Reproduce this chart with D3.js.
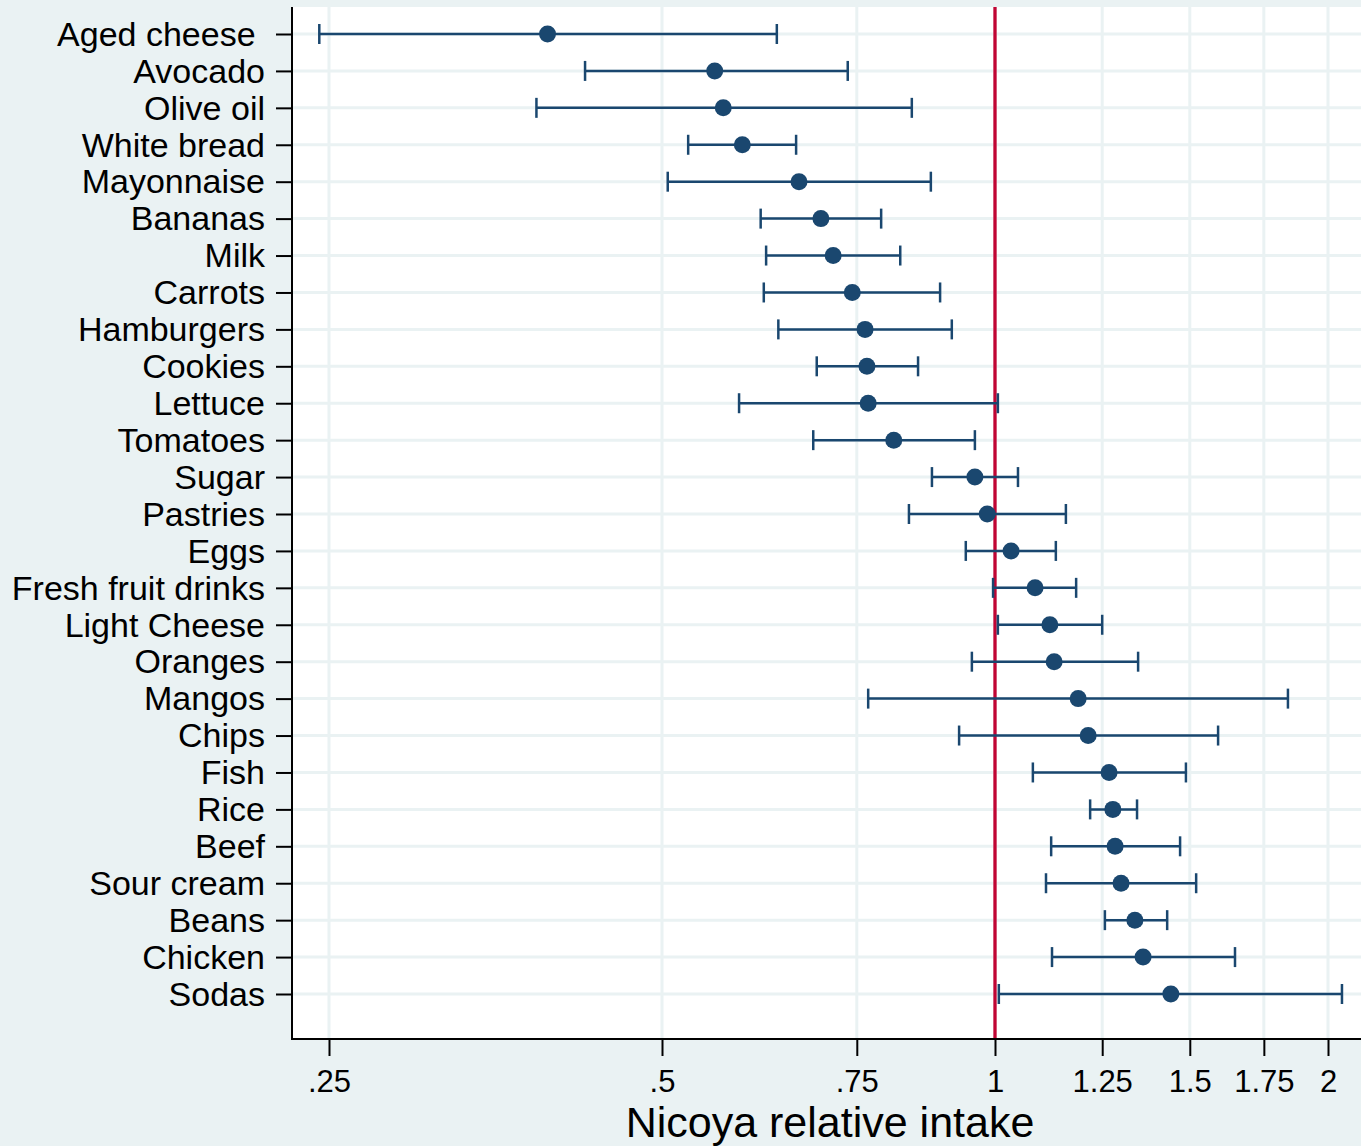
<!DOCTYPE html>
<html>
<head>
<meta charset="utf-8">
<script src="https://cdn.jsdelivr.net/npm/d3@7"></script>
<style>
  html, body { margin: 0; padding: 0; background: #eaf2f3; }
  text { font-family: "Liberation Sans", Arial, Helvetica, sans-serif; fill: #000; }
</style>
</head>
<body>
<div id="chart"></div>
<script>
var svgWidth = 1361;
var svgHeight = 1146;

var margin = {
  top: 7,
  right: 0,
  bottom: 107,
  left: 292
};

var width = svgWidth - margin.left - margin.right;
var height = svgHeight - margin.top - margin.bottom;

// foods, top to bottom
var foods = ["Aged cheese ", "Avocado", "Olive oil", "White bread", "Mayonnaise", "Bananas",
  "Milk", "Carrots", "Hamburgers", "Cookies", "Lettuce", "Tomatoes", "Sugar", "Pastries",
  "Eggs", "Fresh fruit drinks", "Light Cheese", "Oranges", "Mangos", "Chips", "Fish",
  "Rice", "Beef", "Sour cream", "Beans", "Chicken", "Sodas"];

// relative intake (point estimate) and confidence limits
var estimate = [0.394, 0.558, 0.568, 0.591, 0.665, 0.696, 0.714, 0.743, 0.763, 0.766,
  0.768, 0.810, 0.959, 0.984, 1.034, 1.087, 1.121, 1.131, 1.189, 1.214, 1.268,
  1.278, 1.284, 1.300, 1.338, 1.361, 1.442];
var lower = [0.245, 0.426, 0.385, 0.528, 0.506, 0.614, 0.621, 0.618, 0.637, 0.690,
  0.587, 0.685, 0.877, 0.836, 0.941, 0.996, 1.006, 0.953, 0.768, 0.928, 1.082,
  1.219, 1.124, 1.112, 1.257, 1.126, 1.008];
var upper = [0.635, 0.736, 0.841, 0.661, 0.875, 0.789, 0.821, 0.892, 0.914, 0.852,
  1.006, 0.959, 1.049, 1.159, 1.135, 1.184, 1.250, 1.347, 1.840, 1.591, 1.488,
  1.344, 1.470, 1.520, 1.431, 1.648, 2.059];

var xTicks = [0.25, 0.5, 0.75, 1, 1.25, 1.5, 1.75, 2];
var xTickLabels = [".25", ".5", ".75", "1", "1.25", "1.5", "1.75", "2"];
var refValue = 1;

var rows = foods.map(function(f, i) {
  return { food: f, est: estimate[i], lo: lower[i], hi: upper[i] };
});

var navy = "#1a476f";
var gridColor = "#eaf2f3";

var svg = d3.select("#chart")
  .append("svg")
  .attr("width", svgWidth)
  .attr("height", svgHeight)
  .style("display", "block");

svg.append("rect")
  .attr("width", svgWidth)
  .attr("height", svgHeight)
  .attr("fill", "#eaf2f3");

var chartGroup = svg.append("g")
  .attr("transform", `translate(${margin.left}, ${margin.top})`);

// plot region
chartGroup.append("rect")
  .attr("width", width)
  .attr("height", height)
  .attr("fill", "#ffffff");

// scales
var xScale = d3.scaleLog()
  .base(2)
  .domain([0.25, 2])
  .range([329 - margin.left, 1328 - margin.left]);

var yScale = d3.scalePoint()
  .domain(foods)
  .range([34 - margin.top, 994 - margin.top]);

// grid lines
chartGroup.selectAll(".hgrid")
  .data(foods)
  .enter()
  .append("line")
  .attr("x1", 0)
  .attr("x2", width)
  .attr("y1", d => yScale(d))
  .attr("y2", d => yScale(d))
  .attr("stroke", gridColor)
  .attr("stroke-width", 3);

chartGroup.selectAll(".vgrid")
  .data(xTicks)
  .enter()
  .append("line")
  .attr("x1", d => xScale(d))
  .attr("x2", d => xScale(d))
  .attr("y1", 0)
  .attr("y2", height)
  .attr("stroke", gridColor)
  .attr("stroke-width", 3);

// reference line at 1
chartGroup.append("line")
  .attr("x1", xScale(refValue))
  .attr("x2", xScale(refValue))
  .attr("y1", 0)
  .attr("y2", height)
  .attr("stroke", "#c10534")
  .attr("stroke-width", 3.3);

// error bars
var bars = chartGroup.selectAll(".bar")
  .data(rows)
  .enter()
  .append("g");

bars.append("line")
  .attr("x1", d => xScale(d.lo))
  .attr("x2", d => xScale(d.hi))
  .attr("y1", d => yScale(d.food))
  .attr("y2", d => yScale(d.food))
  .attr("stroke", navy)
  .attr("stroke-width", 2.5);

bars.append("line")
  .attr("x1", d => xScale(d.lo))
  .attr("x2", d => xScale(d.lo))
  .attr("y1", d => yScale(d.food) - 10)
  .attr("y2", d => yScale(d.food) + 10)
  .attr("stroke", navy)
  .attr("stroke-width", 2.5);

bars.append("line")
  .attr("x1", d => xScale(d.hi))
  .attr("x2", d => xScale(d.hi))
  .attr("y1", d => yScale(d.food) - 10)
  .attr("y2", d => yScale(d.food) + 10)
  .attr("stroke", navy)
  .attr("stroke-width", 2.5);

bars.append("circle")
  .attr("cx", d => xScale(d.est))
  .attr("cy", d => yScale(d.food))
  .attr("r", 8.5)
  .attr("fill", navy);

// axes
var leftAxis = d3.axisLeft(yScale)
  .tickSize(16)
  .tickSizeOuter(0)
  .tickPadding(11);

var bottomAxis = d3.axisBottom(xScale)
  .tickValues(xTicks)
  .tickFormat((d, i) => xTickLabels[i])
  .tickSize(17)
  .tickSizeOuter(0)
  .tickPadding(14);

var yAxisG = chartGroup.append("g").call(leftAxis);
yAxisG.select(".domain").remove();
yAxisG.selectAll("line").attr("stroke", "#000").attr("stroke-width", 2);
yAxisG.selectAll("text")
  .style("font-size", "34px")
  .style("white-space", "pre")
  .attr("dy", "0.33em");

var xAxisG = chartGroup.append("g")
  .attr("transform", `translate(0, ${height})`)
  .call(bottomAxis);
xAxisG.select(".domain").remove();
xAxisG.selectAll("line").attr("stroke", "#000").attr("stroke-width", 2);
xAxisG.selectAll("text").style("font-size", "31px");

// axis lines
chartGroup.append("line")
  .attr("x1", 0).attr("x2", 0)
  .attr("y1", 0).attr("y2", height + 1)
  .attr("stroke", "#000")
  .attr("stroke-width", 2);

chartGroup.append("line")
  .attr("x1", -1).attr("x2", width)
  .attr("y1", height).attr("y2", height)
  .attr("stroke", "#000")
  .attr("stroke-width", 2);

// axis title
svg.append("text")
  .attr("x", 830)
  .attr("y", 1137)
  .attr("text-anchor", "middle")
  .style("font-size", "43px")
  .text("Nicoya relative intake");
</script>
</body>
</html>
